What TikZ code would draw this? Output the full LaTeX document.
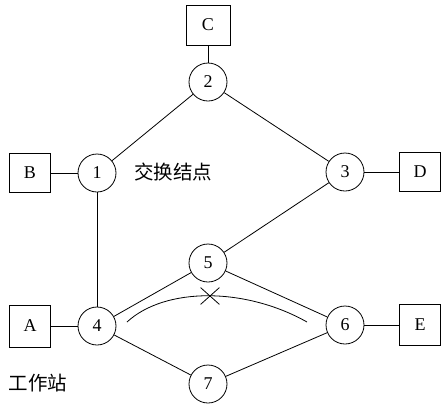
\documentclass[tikz,border=0pt]{standalone}
\usepackage{fontspec}
\setmainfont{Liberation Serif}
\newfontfamily\cjk{Noto Sans CJK SC}
\usetikzlibrary{shapes.misc}

\begin{document}
\begin{tikzpicture}[
  x=1pt, y=-1pt,
  switch/.style={circle, draw, line width=0.8pt, minimum size=38pt, inner sep=0pt, font=\fontsize{18}{18}\selectfont},
  station/.style={rectangle, draw, line width=0.8pt, minimum width=41pt, minimum height=39pt, font=\fontsize{18}{18}\selectfont},
  label/.style={font=\cjk\fontsize{19.5}{19.5}\selectfont},
  link/.style={line width=0.8pt}
]
\useasboundingbox (0,0) rectangle (448,413);

% switching nodes
\node[switch] (n2) at (208,82) {2};
\node[switch] (n1) at (97,173) {1};
\node[switch] (n3) at (345,172) {3};
\node[switch] (n5) at (208,263) {5};
\node[switch] (n4) at (97,326) {4};
\node[switch] (n6) at (345,325) {6};
\node[switch] (n7) at (208,384) {7};

% stations
\node[station, minimum width=44pt, minimum height=40pt] (c) at (208,25) {C};
\node[station] (b) at (30,173) {B};
\node[station] (d) at (420,172) {D};
\node[station, minimum height=42pt] (a) at (30,326) {A};
\node[station, minimum height=41pt] (e) at (420,325) {E};

\node[label] (sw) at (173,172) {交换结点};
\node[label] (ws) at (38,383) {工作站};

\draw[link] (c) -- (n2);
\draw[link] (n2) -- (n1);
\draw[link] (n2) -- (n3);
\draw[link] (b) -- (n1);
\draw[link] (n3) -- (d);
\draw[link] (n1) -- (n4);
\draw[link] (n3) -- (n5);
\draw[link] (n4) -- (n5);
\draw[link] (n5) -- (n6);
\draw[link] (a) -- (n4);
\draw[link] (n4) -- (n7);
\draw[link] (n7) -- (n6);
\draw[link] (n6) -- (e);

% broken route
\coordinate (r1) at (127,322);
\coordinate (r2) at (307,322);
\draw[link] (r1) .. controls (165,287) and (245,287) .. (r2);
\node[cross out, draw, line width=0.8pt, minimum width=18pt, minimum height=16pt, inner sep=0pt] (brk) at (210,296) {};

\end{tikzpicture}
\end{document}
